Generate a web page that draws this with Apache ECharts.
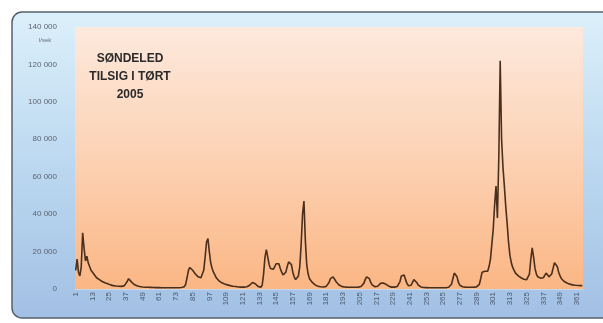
<!DOCTYPE html>
<html>
<head>
<meta charset="utf-8">
<title>Søndeled tilsig i tørt 2005</title>
<script src="https://cdn.jsdelivr.net/npm/echarts@6/dist/echarts.min.js"></script>
<style>
    html, body {margin: 0; padding: 0; background: #ffffff;}
    #tilsigChart {width: 603px; height: 323px;}
</style>
</head>
<body>
<div id="tilsigChart"></div>
<script>
/* 365 dager, etikett for hver 12. dag */
var dager = [];
for (var d = 1; d <= 365; d++) {
    dager.push(String(d));
}

/* Tilsig l/sek, dag for dag */
var tilsig = [
    10000, 16000, 9000, 7000, 12000, 30000, 22000, 15000, 17500, 14000,
    12000, 10000, 9000, 8000, 7000, 6000, 5500, 5000, 4500, 4000,
    3600, 3300, 3000, 2800, 2500, 2200, 2000, 1800, 1700, 1600,
    1500, 1500, 1400, 1400, 1500, 1800, 2500, 4000, 5500, 5000,
    3800, 3000, 2400, 2000, 1700, 1500, 1300, 1200, 1100, 1000,
    950, 900, 900, 850, 850, 800, 800, 800, 750, 750,
    750, 700, 700, 700, 700, 650, 650, 650, 650, 650,
    650, 650, 700, 700, 700, 750, 800, 900, 1200, 2500,
    6000, 10000, 11500, 11000, 10000, 9000, 8000, 7000, 6500, 6000,
    6000, 7000, 10000, 17000, 25000, 27000, 20000, 14000, 11000, 9000,
    7500, 6000, 5000, 4300, 3800, 3300, 3000, 2700, 2400, 2200,
    2000, 1800, 1600, 1500, 1400, 1300, 1200, 1100, 1100, 1000,
    1000, 1000, 1100, 1200, 1500, 2000, 2800, 3500, 3500, 2800,
    2000, 1400, 1000, 900, 2000, 8000, 17000, 21000, 17000, 13000,
    11000, 10000, 10500, 12000, 13500, 14000, 13500, 11000, 9000, 7500,
    7500, 9000, 12000, 14500, 15500, 13000, 9000, 6500, 5000, 5500,
    7000, 12000, 24000, 40000, 47000, 26000, 13000, 8000, 5500, 4500,
    3500, 2800, 2200, 1700, 1500, 1300, 1200, 1100, 1100, 1200,
    1400, 2000, 3500, 5500, 6500, 6500, 5500, 4000, 3000, 2300,
    1800, 1400, 1200, 1100, 1000, 1000, 950, 950, 900, 900,
    900, 900, 950, 1000, 1100, 1300, 1800, 3000, 5000, 6500,
    7000, 5500, 3500, 2200, 1500, 1200, 1200, 1500, 2200, 3000,
    3300, 3200, 3000, 2500, 2000, 1500, 1200, 1000, 1000, 1000,
    1100, 1300, 2000, 4000, 7000, 8000, 7500, 5000, 3000, 1800,
    1500, 2000, 3500, 5000, 4800, 3500, 2200, 1500, 1100, 900,
    800, 800, 750, 750, 700, 700, 700, 650, 650, 650,
    650, 650, 650, 650, 700, 700, 700, 800, 900, 1200,
    2500, 5500, 8500, 9000, 6500, 3500, 2000, 1400, 1200, 1100,
    1000, 1000, 950, 950, 950, 950, 1000, 1000, 1100, 1300,
    2500, 5500, 9000, 10000, 9500, 9000, 9500, 12000, 16000, 24000,
    32000, 45000, 55000, 38000, 70000, 122000, 80000, 65000, 55000, 44000,
    35000, 25000, 18000, 14000, 11500, 10000, 8500, 7500, 7000, 6500,
    6000, 5500, 5200, 5000, 5000, 5500, 8000, 16000, 22000, 17000,
    11000, 8000, 6500, 6000, 5800, 5800, 6000, 6500, 8500, 7500,
    6500, 6500, 8000, 11000, 14000, 14500, 12000, 9000, 7000, 5500,
    4500, 4000, 3600, 3200, 2900, 2600, 2400, 2200, 2100, 2000,
    1900, 1900, 1800, 1800, 1800
];

var yMaks = 140000;
var ySteg = 20000;

/**
 * tall med mellomrom som tusenskille
 */
function tusen(v) {
    return String(v).replace(/\B(?=(\d{3})+(?!\d))/g, ' ');
}

window.onload = function () {
    tilsigChart();
};

/**
 * tilsigskurve
 */
function tilsigChart() {
    var myChart = echarts.init(document.getElementById('tilsigChart'));
    var option = {
        backgroundColor: '#ffffff',
        animation: false,
        graphic: [
            {
                type: 'rect',
                z: -10,
                shape: {x: 12, y: 12, width: 600, height: 306, r: 10},
                style: {
                    fill: new echarts.graphic.LinearGradient(0, 0, 0, 1, [
                        {offset: 0, color: '#dcf0fa'},
                        {offset: 0.5, color: '#bcd8f0'},
                        {offset: 1, color: '#a2c0e4'}
                    ]),
                    stroke: '#56606c',
                    lineWidth: 1.5
                }
            }
        ],
        title: [
            {
                text: 'SØNDELED\nTILSIG I TØRT\n2005',
                left: 130,
                top: 50,
                padding: 0,
                textAlign: 'center',
                textStyle: {
                    fontFamily: 'Liberation Sans, sans-serif',
                    fontSize: 12,
                    fontWeight: 'bold',
                    color: '#2a2a2a',
                    lineHeight: 18
                }
            },
            {
                text: 'l/sek',
                left: 34,
                top: 32,
                textStyle: {
                    fontFamily: 'Liberation Sans, sans-serif',
                    fontSize: 6,
                    fontWeight: 'normal',
                    color: '#6a7078'
                }
            }
        ],
        grid: {
            left: 75,
            right: 20,
            top: 27,
            bottom: 34,
            show: true,
            borderWidth: 0,
            backgroundColor: new echarts.graphic.LinearGradient(0, 0, 0, 1, [
                {offset: 0, color: '#fde9dd'},
                {offset: 0.5, color: '#fcd2b4'},
                {offset: 1, color: '#fbb684'}
            ])
        },
        xAxis: {
            type: 'category',
            data: dager,
            boundaryGap: true,
            axisLine: {show: true, lineStyle: {color: '#c9d8e8', width: 1}},
            axisTick: {show: false},
            axisLabel: {
                interval: 11,
                rotate: 90,
                margin: 3,
                fontSize: 8,
                fontFamily: 'Liberation Sans, sans-serif',
                color: '#4c5a70'
            },
            splitLine: {show: false}
        },
        yAxis: {
            type: 'value',
            min: 0,
            max: yMaks,
            interval: ySteg,
            axisLine: {show: false},
            axisTick: {show: false},
            splitLine: {show: false},
            axisLabel: {
                margin: 18,
                fontSize: 8,
                fontFamily: 'Liberation Sans, sans-serif',
                color: '#5c6470',
                formatter: function (v) {
                    return tusen(v);
                }
            }
        },
        series: [
            {
                type: 'line',
                data: tilsig,
                showSymbol: false,
                smooth: false,
                lineStyle: {color: '#4a2f1c', width: 1.6}
            }
        ]
    };
    myChart.setOption(option, true);
}
</script>
</body>
</html>
